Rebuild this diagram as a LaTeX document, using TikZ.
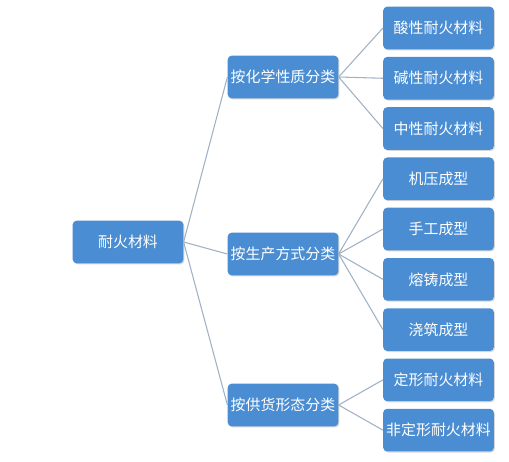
\documentclass[tikz,border=0pt]{standalone}
\usepackage{fontspec}
\newfontfamily\cjk{Noto Sans CJK SC}
\usetikzlibrary{shadows}
\definecolor{boxblue}{RGB}{74,141,210}
\definecolor{linkgray}{RGB}{160,178,198}
\begin{document}
\begin{tikzpicture}[x=0.75pt, y=-0.75pt,
        block/.style={rectangle, fill=boxblue, text=white, rounded corners=3pt, minimum width=83pt, minimum height=32pt, inner sep=1pt, font=\cjk\fontsize{11.2}{13}\selectfont, drop shadow={shadow xshift=0.8pt, shadow yshift=-0.8pt, opacity=0.3}},
        link/.style={draw=linkgray, line width=0.8pt}]
        \fill[white] (0,0) rectangle (509,461);
        \useasboundingbox (0,0) rectangle (509,461);
        \node[block] (root) at (128,242) {耐火材料};
        \node[block] (chem) at (283,77) {按化学性质分类};
        \node[block] (prod) at (283,254) {按生产方式分类};
        \node[block] (supply) at (283,405) {按供货形态分类};
        \node[block] (acid) at (438.5,28) {酸性耐火材料};
        \node[block, below of=acid, node distance=37.7pt] (basic) {碱性耐火材料};
        \node[block, below of=basic, node distance=37.7pt] (neutral) {中性耐火材料};
        \node[block, below of=neutral, node distance=37.7pt] (press) {机压成型};
        \node[block, below of=press, node distance=37.7pt] (hand) {手工成型};
        \node[block, below of=hand, node distance=37.7pt] (fused) {熔铸成型};
        \node[block, below of=fused, node distance=37.7pt] (cast) {浇筑成型};
        \node[block, below of=cast, node distance=37.7pt] (shaped) {定形耐火材料};
        \node[block, below of=shaped, node distance=37.7pt] (unshaped) {非定形耐火材料};
        \foreach \c in {chem, prod, supply}
            \draw[link] (root.east) -- (\c.west);
        \foreach \c in {acid, basic, neutral}
            \draw[link] (chem.east) -- (\c.west);
        \foreach \c in {press, hand, fused, cast}
            \draw[link] (prod.east) -- (\c.west);
        \foreach \c in {shaped, unshaped}
            \draw[link] (supply.east) -- (\c.west);
    \end{tikzpicture}
\end{document}
